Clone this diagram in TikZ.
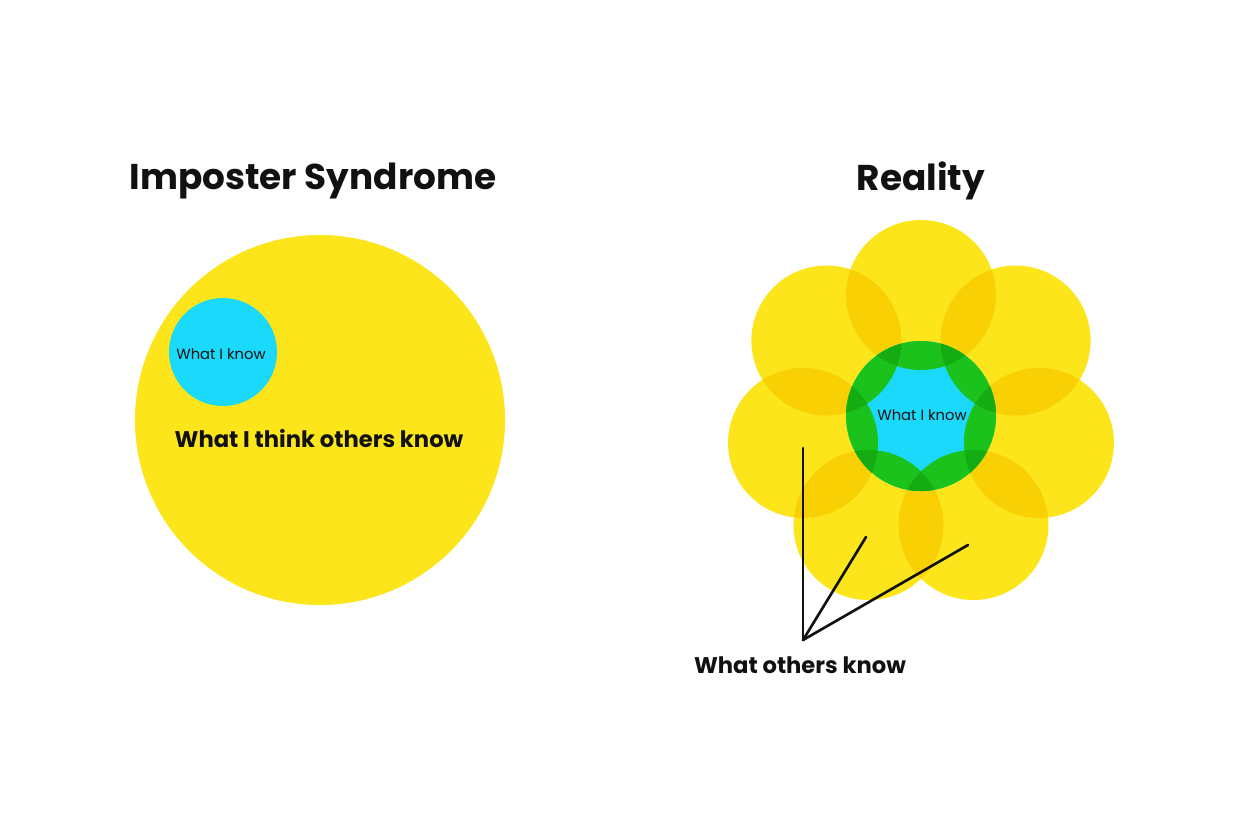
\documentclass[tikz,border=0pt]{standalone}
\usepackage{fontspec}
\setmainfont{Poppins}
\usetikzlibrary{calc}
\definecolor{petal}{HTML}{FCE51A}
\definecolor{petaldark}{HTML}{F9D004}
\definecolor{sky}{HTML}{1AD9FA}
\definecolor{leaf}{HTML}{1BC21B}
\definecolor{leafdark}{HTML}{14AC12}
\definecolor{ink}{HTML}{111111}
\begin{document}
\begin{tikzpicture}[x=0.02cm,y=-0.02cm,
  titletext/.style={text=ink,font=\bfseries\fontsize{20.4}{24}\selectfont,inner sep=0pt},
  bigtext/.style={text=ink,font=\bfseries\fontsize{12.9}{15}\selectfont,inner sep=0pt},
  smalltext/.style={text=ink,font=\fontsize{8.4}{10}\selectfont,inner sep=0pt},
  pointer/.style={draw=ink,line width=1.5pt,line cap=round}]
\useasboundingbox (0,0) rectangle (1250,833);
\fill[white] (0,0) rectangle (1250,833);
% titles
\node[titletext] (t1) at (313,181) {Imposter Syndrome};
\node[titletext] (t2) at (921,181) {Reality};
% left diagram
\coordinate (bigc) at (320,420);
\fill[petal] (bigc) circle[radius=185];
\coordinate (smc) at (223,352);
\fill[sky] (smc) circle[radius=54];
\node[smalltext] (k1) at (221,354) {What I know};
\node[bigtext] (others1) at (319,438) {What I think others know};
% flower
\coordinate (c) at (921,416);
\foreach \i in {0,...,6}{
  \coordinate (p\i) at ($(c)+({-90+\i*360/7}:121)$);
}
\foreach \i in {0,...,6}{
  \fill[petal] (p\i) circle[radius=75];
}
\foreach \i [evaluate=\i as \j using {int(mod(\i+1,7))}] in {0,...,6}{
  \begin{scope}
    \clip (p\i) circle[radius=75];
    \fill[petaldark] (p\j) circle[radius=75];
  \end{scope}
}
\begin{scope}
  \clip (c) circle[radius=75];
  \fill[sky] (c) circle[radius=75];
  \foreach \i in {0,...,6}{
    \fill[leaf] (p\i) circle[radius=75];
  }
  \foreach \i [evaluate=\i as \j using {int(mod(\i+1,7))}] in {0,...,6}{
    \begin{scope}
      \clip (p\i) circle[radius=75];
      \fill[leafdark] (p\j) circle[radius=75];
    \end{scope}
  }
\end{scope}
\node[smalltext] (k2) at (922,415) {What I know};
% pointers
\node[bigtext] (others2) at (800,665) {What others know};
\coordinate (hub) at (803,640);
\coordinate (q1) at (803,448);
\coordinate (q2) at (866,537);
\coordinate (q3) at (968,545);
\draw[pointer] (hub) -- (q1);
\draw[pointer] (hub) -- (q2);
\draw[pointer] (hub) -- (q3);
\end{tikzpicture}
\end{document}
